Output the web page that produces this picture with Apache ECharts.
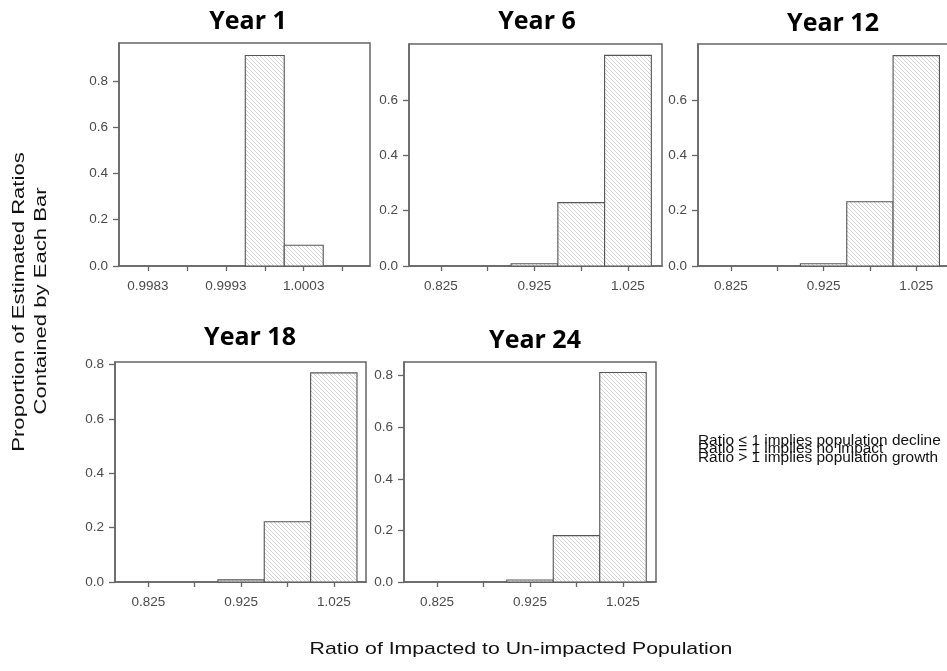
<!DOCTYPE html>
<html><head><meta charset="utf-8">
<script src="https://cdn.jsdelivr.net/npm/echarts@6/dist/echarts.min.js"></script>
<style>html,body{margin:0;padding:0;background:#fff}#c{width:947px;height:671px}</style>
</head><body><div id="c"></div>
<script>
// ---- data ----
const panelTitles = ['Year 1', 'Year 6', 'Year 12', 'Year 18', 'Year 24'];
const year1BinCenters = [0.9998, 1.0003];
const year1Proportions = [0.91, 0.09];
const laterBinCenters = [0.925, 0.975, 1.025];
const year6Proportions = [0.008, 0.229, 0.761];
const year12Proportions = [0.008, 0.232, 0.760];
const year18Proportions = [0.008, 0.222, 0.770];
const year24Proportions = [0.008, 0.180, 0.812];
const year1BinWidth = 0.0005;
const laterBinWidth = 0.05;
const year1XTicks = [0.9983, 0.9988, 0.9993, 0.9998, 1.0003, 1.0008];
const year1XLabels = [0.9983, 0.9993, 1.0003];
const laterXTicks = [0.825, 0.875, 0.925, 0.975, 1.025];
const laterXLabels = [0.825, 0.925, 1.025];
const yTicksTo08 = [0, 0.2, 0.4, 0.6, 0.8];
const yTicksTo06 = [0, 0.2, 0.4, 0.6];
const yAxisTitleLines = ['Proportion of Estimated Ratios', 'Contained by Each Bar'];
const xAxisTitle = 'Ratio of Impacted to Un-impacted Population';
const noteLines = ['Ratio < 1 implies population decline', 'Ratio = 1 implies no impact', 'Ratio > 1 implies population growth'];

// ---- hatch pattern ----
const P = 4;
const pc = document.createElement('canvas'); pc.width = P; pc.height = P;
const ctx = pc.getContext('2d');
ctx.fillStyle = '#ffffff'; ctx.fillRect(0, 0, P, P);
ctx.strokeStyle = '#d2d2d2'; ctx.lineWidth = 1;
ctx.beginPath();
ctx.moveTo(-1, -1); ctx.lineTo(P + 1, P + 1);
ctx.moveTo(-1, P - 1); ctx.lineTo(1, P + 1);
ctx.moveTo(P - 1, -1); ctx.lineTo(P + 1, 1);
ctx.stroke();
const hatch = { image: pc, repeat: 'repeat' };

// ---- panel layout ----
const panels = [
  { title: panelTitles[0], centers: year1BinCenters, values: year1Proportions, binW: year1BinWidth,
    grid: { left: 119, top: 43, width: 251, height: 223 }, xMin: 0.99793, xMax: 1.00115, yMax: 0.964,
    xTicks: year1XTicks, xLabels: year1XLabels, yLabels: yTicksTo08, dec: 4, tpos: [248, 22] },
  { title: panelTitles[1], centers: laterBinCenters, values: year6Proportions, binW: laterBinWidth,
    grid: { left: 409, top: 44, width: 253, height: 222 }, xMin: 0.7908, xMax: 1.0614, yMax: 0.802,
    xTicks: laterXTicks, xLabels: laterXLabels, yLabels: yTicksTo06, dec: 3, tpos: [537, 22] },
  { title: panelTitles[2], centers: laterBinCenters, values: year12Proportions, binW: laterBinWidth,
    grid: { left: 698, top: 44, width: 252, height: 222 }, xMin: 0.7895, xMax: 1.0614, yMax: 0.802,
    xTicks: laterXTicks, xLabels: laterXLabels, yLabels: yTicksTo06, dec: 3, tpos: [833, 24] },
  { title: panelTitles[3], centers: laterBinCenters, values: year18Proportions, binW: laterBinWidth,
    grid: { left: 115, top: 362, width: 251, height: 220 }, xMin: 0.7891, xMax: 1.0597, yMax: 0.81,
    xTicks: laterXTicks, xLabels: laterXLabels, yLabels: yTicksTo08, dec: 3, tpos: [250, 338] },
  { title: panelTitles[4], centers: laterBinCenters, values: year24Proportions, binW: laterBinWidth,
    grid: { left: 404, top: 362, width: 252, height: 220 }, xMin: 0.7895, xMax: 1.0605, yMax: 0.853,
    xTicks: laterXTicks, xLabels: laterXLabels, yLabels: yTicksTo08, dec: 3, tpos: [535, 341] }
];

const AX = '#666666';
const LBL = '#4a4a4a';
const FONT = '"Liberation Sans", Arial, sans-serif';

const grids = [], xAxes = [], yAxes = [], series = [], graphics = [];
panels.forEach((p, i) => {
  grids.push(Object.assign({ show: true, borderColor: AX, borderWidth: 1.5, backgroundColor: 'transparent',
    containLabel: false, outerBoundsMode: 'none' }, p.grid));
  xAxes.push({
    type: 'value', gridIndex: i, min: p.xMin, max: p.xMax,
    splitLine: { show: false },
    axisLine: { show: true, lineStyle: { color: AX, width: 1.5 } },
    axisTick: { show: true, length: 5, customValues: p.xTicks, lineStyle: { color: AX, width: 1.3 } },
    axisLabel: { customValues: p.xLabels, margin: 13, color: LBL, fontFamily: FONT, fontSize: 13.5,
      formatter: v => Number(v).toFixed(p.dec) }
  });
  yAxes.push({
    type: 'value', gridIndex: i, min: 0, max: p.yMax,
    splitLine: { show: false },
    axisLine: { show: true, lineStyle: { color: AX, width: 1.5 } },
    axisTick: { show: true, length: 6, customValues: p.yLabels, lineStyle: { color: AX, width: 1.3 } },
    axisLabel: { customValues: p.yLabels, margin: 11, color: LBL, fontFamily: FONT, fontSize: 13.5,
      formatter: v => Number(v).toFixed(1) }
  });
  const bw = p.binW;
  series.push({
    type: 'custom', xAxisIndex: i, yAxisIndex: i,
    data: p.centers.map((c, k) => [c, p.values[k]]),
    clip: false,
    renderItem: (params, api) => {
      const c = api.value(0), h = api.value(1);
      const a = api.coord([c - bw / 2, h]);
      const b = api.coord([c + bw / 2, 0]);
      return { type: 'rect',
        shape: { x: a[0], y: a[1], width: b[0] - a[0], height: b[1] - a[1] },
        style: { fill: hatch, stroke: '#555555', lineWidth: 1.1 } };
    }
  });
  graphics.push({ type: 'text', x: p.tpos[0], y: p.tpos[1],
    style: { text: p.title, font: 'bold 25px "Open Sans", sans-serif', fill: '#000',
      align: 'center', verticalAlign: 'middle' } });
});

// y axis title (two rotated lines)
graphics.push({ type: 'text', x: 20, y: 302, rotation: Math.PI / 2, scaleX: 1.38,
  style: { text: yAxisTitleLines[0], font: '16px ' + FONT, fill: '#111', align: 'center', verticalAlign: 'middle' } });
graphics.push({ type: 'text', x: 42, y: 301, rotation: Math.PI / 2, scaleX: 1.38,
  style: { text: yAxisTitleLines[1], font: '16px ' + FONT, fill: '#111', align: 'center', verticalAlign: 'middle' } });
// x axis title
graphics.push({ type: 'text', x: 521, y: 649, scaleX: 1.25,
  style: { text: xAxisTitle, font: '17px ' + FONT, fill: '#111', align: 'center', verticalAlign: 'middle' } });
// note lines
const noteY = [441, 449.5, 458];
noteLines.forEach((t, k) => {
  graphics.push({ type: 'text', x: 698, y: noteY[k], scaleX: 1.1,
    style: { text: t, font: '14px ' + FONT, fill: '#111', align: 'left', verticalAlign: 'middle' } });
});

const chart = echarts.init(document.getElementById('c'), null, { renderer: 'canvas' });
chart.setOption({
  animation: false,
  backgroundColor: '#ffffff',
  grid: grids, xAxis: xAxes, yAxis: yAxes, series: series,
  graphic: { elements: graphics }
});
</script>
</body></html>
